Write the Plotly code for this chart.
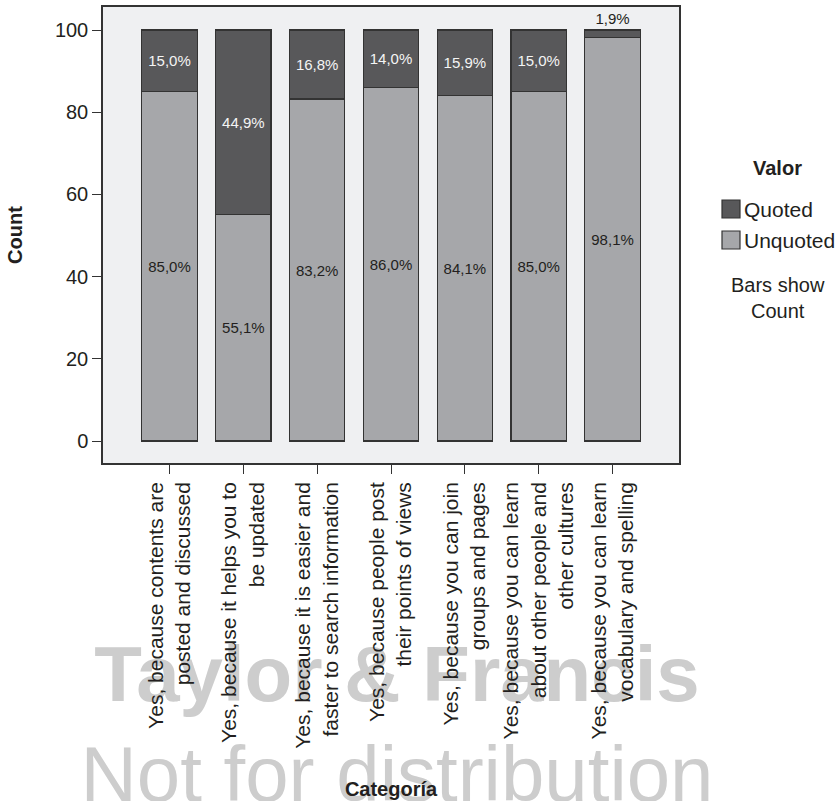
import plotly.graph_objects as go

# Categories (multi-line tick labels)
categories = [
    "Yes, because contents are<br>posted and discussed",
    "Yes, because it helps you to<br>be updated",
    "Yes, because it is easier and<br>faster to search information",
    "Yes, because people post<br>their points of views",
    "Yes, because you can join<br>groups and pages",
    "Yes, because you can learn<br>about other people and<br>other cultures",
    "Yes, because you can learn<br>vocabulary and spelling",
]

# Percentages per category
unquoted = [85.0, 55.1, 83.2, 86.0, 84.1, 85.0, 98.1]
quoted = [15.0, 44.9, 16.8, 14.0, 15.9, 15.0, 1.9]

y_ticks = [0, 20, 40, 60, 80, 100]

FONT = "Liberation Sans, Arial, Helvetica, sans-serif"
INK = "#231f20"
DARK = "#58585a"
LIGHT = "#a6a7aa"
EDGE = "#333333"


def pct(v):
    return f"{v:.1f}".replace(".", ",") + "%"


# Pixel layout of the plotting area
W, H = 839, 801
L, R, T, B = 103, 679, 7, 463


def px(x):
    return (x - L) / (R - L)


def py(y):
    return (B - y) / (B - T)


fig = go.Figure()

fig.add_trace(go.Bar(
    x=categories, y=unquoted, name="Unquoted",
    marker=dict(color=LIGHT, line=dict(color=EDGE, width=1.2)),
    width=0.75,
    text=[pct(v) for v in unquoted],
    textposition="inside", insidetextanchor="middle",
    textangle=0, constraintext="none",
    insidetextfont=dict(family=FONT, size=15, color=INK),
    hoverinfo="skip", showlegend=False,
))

fig.add_trace(go.Bar(
    x=categories, y=quoted, name="Quoted",
    marker=dict(color=DARK, line=dict(color=EDGE, width=1.2)),
    width=0.75,
    text=[pct(v) for v in quoted],
    textposition=["inside" if v > 5 else "outside" for v in quoted],
    insidetextanchor="middle",
    textangle=0, constraintext="none",
    insidetextfont=dict(family=FONT, size=15, color="#f4f4f4"),
    outsidetextfont=dict(family=FONT, size=15, color=INK),
    cliponaxis=False,
    hoverinfo="skip", showlegend=False,
))

shapes = []
annotations = []

# Legend block
annotations.append(dict(
    x=px(777), y=py(168), xref="paper", yref="paper",
    text="<b>Valor</b>", showarrow=False,
    font=dict(family=FONT, size=20, color=INK),
    xanchor="center", yanchor="middle",
))
for label, color, yc in [("Quoted", DARK, 209), ("Unquoted", LIGHT, 240)]:
    shapes.append(dict(
        type="rect", xref="paper", yref="paper",
        x0=px(722), x1=px(740), y0=py(yc - 9), y1=py(yc + 9),
        fillcolor=color, line=dict(color=EDGE, width=1.2),
    ))
    annotations.append(dict(
        x=px(742), y=py(yc), xref="paper", yref="paper",
        text=label, showarrow=False,
        font=dict(family=FONT, size=21, color=INK),
        xanchor="left", yanchor="middle",
    ))
annotations.append(dict(
    x=px(778), y=py(298), xref="paper", yref="paper",
    text="Bars show<br>Count", showarrow=False, align="center",
    font=dict(family=FONT, size=20, color=INK),
    xanchor="center", yanchor="middle",
))

# Watermark text drawn beneath the axis labels
for text, weight, yc in [("Taylor & Francis", "bold", 667), ("Not for distribution", "normal", 767)]:
    shapes.append(dict(
        type="rect", xref="paper", yref="paper", layer="below",
        x0=px(397 - 380), x1=px(397 + 380), y0=py(yc - 40), y1=py(yc + 40),
        fillcolor="rgba(0,0,0,0)", line=dict(width=0),
        label=dict(
            text=text, textposition="middle center",
            font=dict(family=FONT, size=78, color="#cdcdcd", weight=weight),
        ),
    ))

fig.update_layout(
    width=W, height=H,
    margin=dict(l=L, r=W - R, t=T, b=H - B, autoexpand=False),
    barmode="stack",
    paper_bgcolor="white",
    plot_bgcolor="#eff0f2",
    font=dict(family=FONT, size=20, color=INK),
    shapes=shapes,
    annotations=annotations,
    xaxis=dict(
        range=[-0.9, 6.9],
        showline=True, mirror=True, linecolor=EDGE, linewidth=1.5,
        ticks="outside", ticklen=9, tickwidth=1.2, tickcolor=EDGE,
        tickangle=-90, tickfont=dict(family=FONT, size=21, color=INK),
        showgrid=False, automargin=False,
        title=dict(text="<b>Categoría</b>", font=dict(family=FONT, size=20, color=INK), standoff=34),
    ),
    yaxis=dict(
        range=[-5.35, 105.6],
        tickvals=y_ticks,
        showline=True, mirror=True, linecolor=EDGE, linewidth=1.5,
        ticks="outside", ticklen=9, tickwidth=1.2, tickcolor=EDGE,
        tickfont=dict(family=FONT, size=20, color=INK),
        showgrid=False, zeroline=False, automargin=False,
        title=dict(text="<b>Count</b>", font=dict(family=FONT, size=20, color=INK), standoff=27),
    ),
)

fig.write_html("out.html")
